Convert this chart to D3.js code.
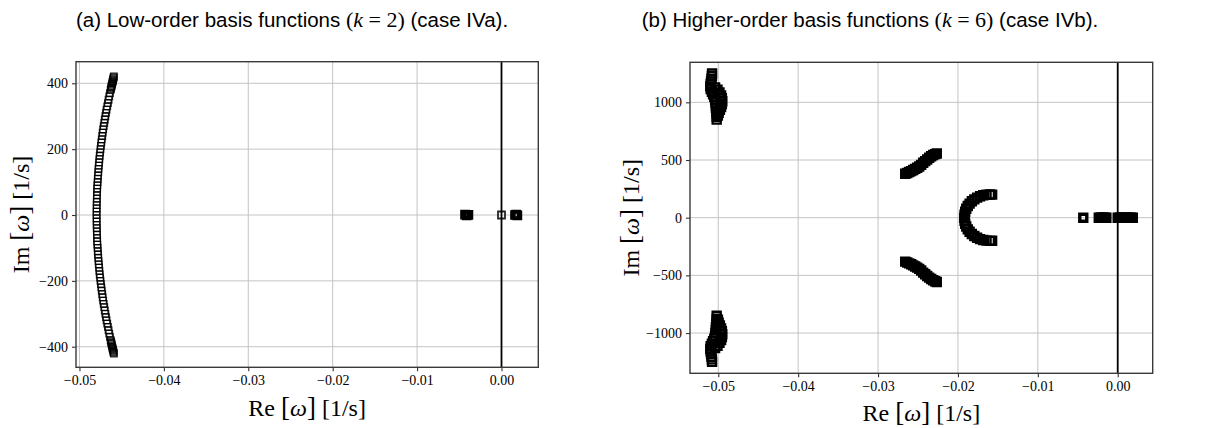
<!DOCTYPE html>
<html>
<head>
<meta charset="utf-8">
<script src="https://cdn.jsdelivr.net/npm/d3@7"></script>
<style>
  body { margin: 0; background: #fff; }
  svg text { fill: #000; }
</style>
</head>
<body>
<svg id="fig" width="1214" height="428"></svg>
<script>
// ---------- tick values ----------
const reTicks = [-0.05, -0.04, -0.03, -0.02, -0.01, 0.0];
const imTicksA = [-400, -200, 0, 200, 400];
const imTicksB = [-1000, -500, 0, 500, 1000];

// ---------- case IVa : eigenvalues [Re, Im] ----------
const caseA_branchUpper = [
  [-0.04592,421],[-0.04595,418],[-0.04598,415],[-0.04602,411],[-0.04605,407],[-0.04608,404],
  [-0.04612,400],[-0.04616,396],[-0.04619,392],[-0.04623,388],[-0.04626,384],[-0.04630,380],
  [-0.04639,370],[-0.04647,360],[-0.04655,350],[-0.04663,340],[-0.04671,330],[-0.04679,320],
  [-0.04686,310],[-0.04693,300],[-0.04700,290],[-0.04706,280],[-0.04713,270],[-0.04719,260],
  [-0.04725,250],[-0.04730,240],[-0.04736,230],[-0.04741,220],[-0.04746,210],[-0.04751,200],
  [-0.04755,190],[-0.04760,180],[-0.04764,170],[-0.04767,160],[-0.04771,150],[-0.04774,140],
  [-0.04777,130],[-0.04780,120],[-0.04783,110],[-0.04785,100],[-0.04788,90],[-0.04790,80],
  [-0.04791,70],[-0.04793,60],[-0.04794,50],[-0.04795,40],[-0.04796,30],[-0.04796,20],
  [-0.04797,10],[-0.04797,0]
];
const caseA_branchLower = [
  [-0.04797,-10],[-0.04796,-20],[-0.04796,-30],[-0.04795,-40],[-0.04794,-50],[-0.04793,-60],
  [-0.04791,-70],[-0.04790,-80],[-0.04788,-90],[-0.04785,-100],[-0.04783,-110],[-0.04780,-120],
  [-0.04777,-130],[-0.04774,-140],[-0.04771,-150],[-0.04767,-160],[-0.04764,-170],[-0.04760,-180],
  [-0.04755,-190],[-0.04751,-200],[-0.04746,-210],[-0.04741,-220],[-0.04736,-230],[-0.04730,-240],
  [-0.04725,-250],[-0.04719,-260],[-0.04713,-270],[-0.04706,-280],[-0.04700,-290],[-0.04693,-300],
  [-0.04686,-310],[-0.04679,-320],[-0.04671,-330],[-0.04663,-340],[-0.04655,-350],[-0.04647,-360],
  [-0.04639,-370],[-0.04630,-380],[-0.04626,-384],[-0.04623,-388],[-0.04619,-392],[-0.04616,-396],
  [-0.04612,-400],[-0.04608,-404],[-0.04605,-407],[-0.04602,-411],[-0.04598,-415],[-0.04595,-418],
  [-0.04592,-421]
];
const caseA_nearAxis = [
  [-0.00432,1],[-0.00412,-1],[-0.00392,0.5],[0.00160,0],[0.00174,1],[0.00188,-1]
];
const caseA_origin = [[0.00000,0]];

// ---------- case IVb : eigenvalues [Re, Im] ----------
const caseB_farUpper = [
  [-0.05078,1250],[-0.05080,1228],[-0.05085,1205],[-0.05090,1182],[-0.05095,1160],[-0.05100,1138],
  [-0.05095,1115],[-0.05080,1092],[-0.05065,1070],[-0.05050,1048],[-0.05040,1025],[-0.05035,1000],
  [-0.05030,975],[-0.05030,950],[-0.05025,925],[-0.05020,900],[-0.05020,875],[-0.05020,850],
  [-0.05040,1130],[-0.05010,1110],[-0.04985,1085],[-0.04965,1060],[-0.04955,1035],[-0.04950,1010],
  [-0.04955,985],[-0.04965,960],[-0.04980,935],[-0.04995,910],[-0.05005,885]
];
const caseB_farLower = [
  [-0.05078,-1250],[-0.05080,-1228],[-0.05085,-1205],[-0.05090,-1182],[-0.05095,-1160],[-0.05100,-1138],
  [-0.05095,-1115],[-0.05080,-1092],[-0.05065,-1070],[-0.05050,-1048],[-0.05040,-1025],[-0.05035,-1000],
  [-0.05030,-975],[-0.05030,-950],[-0.05025,-925],[-0.05020,-900],[-0.05020,-875],[-0.05020,-850],
  [-0.05040,-1130],[-0.05010,-1110],[-0.04985,-1085],[-0.04965,-1060],[-0.04955,-1035],[-0.04950,-1010],
  [-0.04955,-985],[-0.04965,-960],[-0.04980,-935],[-0.04995,-910],[-0.05005,-885]
];
const caseB_midUpper = [
  [-0.02660,381],[-0.02635,388],[-0.02610,396],[-0.02585,404],[-0.02560,413],[-0.02535,423],
  [-0.02510,433],[-0.02485,444],[-0.02460,458],[-0.02435,476],[-0.02410,490],[-0.02385,505],
  [-0.02360,520],[-0.02335,532],[-0.02310,543],[-0.02285,551],[-0.02265,557]
];
const caseB_midLower = [
  [-0.02660,-381],[-0.02635,-388],[-0.02610,-396],[-0.02585,-404],[-0.02560,-413],[-0.02535,-423],
  [-0.02510,-433],[-0.02485,-444],[-0.02460,-458],[-0.02435,-476],[-0.02410,-490],[-0.02385,-505],
  [-0.02360,-520],[-0.02335,-532],[-0.02310,-543],[-0.02285,-551],[-0.02265,-557]
];
const caseB_arc = [
  [-0.01572,200],[-0.01600,201],[-0.01642,199],[-0.01683,194],[-0.01722,186],[-0.01760,174],
  [-0.01795,159],[-0.01826,142],[-0.01854,122],[-0.01877,101],[-0.01896,77],[-0.01909,52],
  [-0.01917,26],[-0.01920,0],[-0.01917,-26],[-0.01909,-52],[-0.01896,-77],[-0.01877,-101],
  [-0.01854,-122],[-0.01826,-142],[-0.01795,-159],[-0.01760,-174],[-0.01722,-186],[-0.01683,-194],
  [-0.01642,-199],[-0.01600,-201],[-0.01572,-200]
];
const caseB_nearAxis = [
  [-0.00431,0],[-0.00237,0],[-0.00218,0],[-0.00199,0],[-0.00180,0],[-0.00161,0],[-0.00142,0],
  [0.00000,0],[0.00025,0],[0.00050,0],[0.00075,0],[0.00100,0],[0.00125,0],[0.00150,0],
  [0.00170,0],[0.00189,0]
];

// ---------- drawing ----------
const svg = d3.select("#fig");
const fmtRe = d3.format(".2f");
const fmtIm = d3.format("d");
const serif = "Liberation Serif, Times New Roman, serif";
const sans = "Liberation Sans, Arial, Helvetica, sans-serif";

function drawPanel(cfg) {
  const x = d3.scaleLinear().domain(cfg.xDomain).range([cfg.left, cfg.right]);
  const y = d3.scaleLinear().domain(cfg.yDomain).range([cfg.bottom, cfg.top]);
  const g = svg.append("g");

  // grid
  g.append("g").selectAll("line").data(cfg.xTicks).join("line")
    .attr("x1", d => x(d)).attr("x2", d => x(d))
    .attr("y1", cfg.top).attr("y2", cfg.bottom)
    .attr("stroke", "#c4c4c4").attr("stroke-width", 1);
  g.append("g").selectAll("line").data(cfg.yTicks).join("line")
    .attr("x1", cfg.left).attr("x2", cfg.right)
    .attr("y1", d => y(d)).attr("y2", d => y(d))
    .attr("stroke", "#c4c4c4").attr("stroke-width", 1);

  // Re = 0 line
  g.append("line")
    .attr("x1", x(0)).attr("x2", x(0)).attr("y1", cfg.top).attr("y2", cfg.bottom)
    .attr("stroke", "#000").attr("stroke-width", 1.8);

  // eigenvalue markers (open squares)
  cfg.groups.forEach(grp => {
    const side = grp.side || cfg.markerSide;
    const sym = d3.symbol().type(d3.symbolSquare).size(side * side);
    g.append("g").selectAll("path").data(grp.pts).join("path")
      .attr("d", sym)
      .attr("transform", d => `translate(${x(d[0])},${y(d[1])})`)
      .attr("fill", "none")
      .attr("stroke", "#000")
      .attr("stroke-opacity", grp.opacity)
      .attr("stroke-width", grp.stroke);
  });

  // axes
  const ax = g.append("g").attr("transform", `translate(0,${cfg.bottom})`)
    .call(d3.axisBottom(x).tickValues(cfg.xTicks).tickFormat(fmtRe).tickSize(4).tickPadding(4));
  const ay = g.append("g").attr("transform", `translate(${cfg.left},0)`)
    .call(d3.axisLeft(y).tickValues(cfg.yTicks).tickFormat(fmtIm).tickSize(4).tickPadding(4));
  [ax, ay].forEach(a => {
    a.select(".domain").remove();
    a.selectAll(".tick line").attr("stroke", "#333").attr("stroke-width", 1.1);
    a.selectAll(".tick text").attr("font-family", serif)
      .attr("font-size", 14).attr("fill", "#222");
  });

  // frame
  g.append("rect")
    .attr("x", cfg.left).attr("y", cfg.top)
    .attr("width", cfg.right - cfg.left).attr("height", cfg.bottom - cfg.top)
    .attr("fill", "none").attr("stroke", "#3a3a3a").attr("stroke-width", 1.4);

  // axis titles
  const xl = g.append("text")
    .attr("x", (cfg.left + cfg.right) / 2 + cfg.xLabelShift).attr("y", cfg.xLabelY)
    .attr("text-anchor", "middle").attr("font-family", serif).attr("font-size", 24);
  xl.append("tspan").text("Re ");
  xl.append("tspan").attr("font-size", 27).text("[");
  xl.append("tspan").attr("font-style", "italic").text("ω");
  xl.append("tspan").attr("font-size", 27).text("]");
  xl.append("tspan").text(" [1/s]");

  const yl = g.append("text")
    .attr("transform", `translate(${cfg.yLabelX},${(cfg.top + cfg.bottom) / 2}) rotate(-90)`)
    .attr("text-anchor", "middle").attr("font-family", serif).attr("font-size", 24);
  yl.append("tspan").text("Im ");
  yl.append("tspan").attr("font-size", 27).text("[");
  yl.append("tspan").attr("font-style", "italic").text("ω");
  yl.append("tspan").attr("font-size", 27).text("]");
  yl.append("tspan").text(" [1/s]");

  // caption
  const t = svg.append("text")
    .attr("x", cfg.titleX).attr("y", 27)
    .attr("text-anchor", "middle").attr("font-family", sans).attr("font-size", 20.5);
  t.append("tspan").text(cfg.caption[0] + " ");
  t.append("tspan").attr("font-family", serif).attr("font-size", 22).text("(");
  t.append("tspan").attr("font-family", serif).attr("font-size", 22).attr("font-style", "italic").text("k");
  t.append("tspan").attr("font-family", serif).attr("font-size", 22).text(" = " + cfg.caption[1] + ")");
  t.append("tspan").text(" " + cfg.caption[2]);
}

drawPanel({
  left: 76, right: 538.3, top: 61.7, bottom: 367.3,
  xDomain: [-0.05041, 0.00436], yDomain: [-462.5, 465.6],
  xTicks: reTicks, yTicks: imTicksA,
  markerSide: 6.5,
  groups: [
    { pts: caseA_branchUpper, stroke: 1.3, opacity: 0.85 },
    { pts: caseA_branchLower, stroke: 1.3, opacity: 0.85 },
    { pts: caseA_nearAxis, stroke: 3.2, opacity: 1 },
    { pts: caseA_origin, stroke: 1.8, opacity: 0.85, side: 7 }
  ],
  xLabelY: 416, xLabelShift: 0, yLabelX: 29,
  titleX: 292,
  caption: ["(a) Low-order basis functions", "2", "(case IVa)."]
});

drawPanel({
  left: 690, right: 1152.7, top: 62.3, bottom: 373.3,
  xDomain: [-0.05354, 0.00438], yDomain: [-1349, 1347],
  xTicks: reTicks, yTicks: imTicksB,
  markerSide: 8,
  groups: [
    { pts: caseB_farUpper, stroke: 2.4, opacity: 1 },
    { pts: caseB_farLower, stroke: 2.4, opacity: 1 },
    { pts: caseB_midUpper, stroke: 2.4, opacity: 1 },
    { pts: caseB_midLower, stroke: 2.4, opacity: 1 },
    { pts: caseB_arc, stroke: 2.4, opacity: 1 },
    { pts: caseB_nearAxis, stroke: 3.4, opacity: 1, side: 7 }
  ],
  xLabelY: 421, xLabelShift: 0, yLabelX: 639,
  titleX: 870,
  caption: ["(b) Higher-order basis functions", "6", "(case IVb)."]
});
</script>
</body>
</html>
